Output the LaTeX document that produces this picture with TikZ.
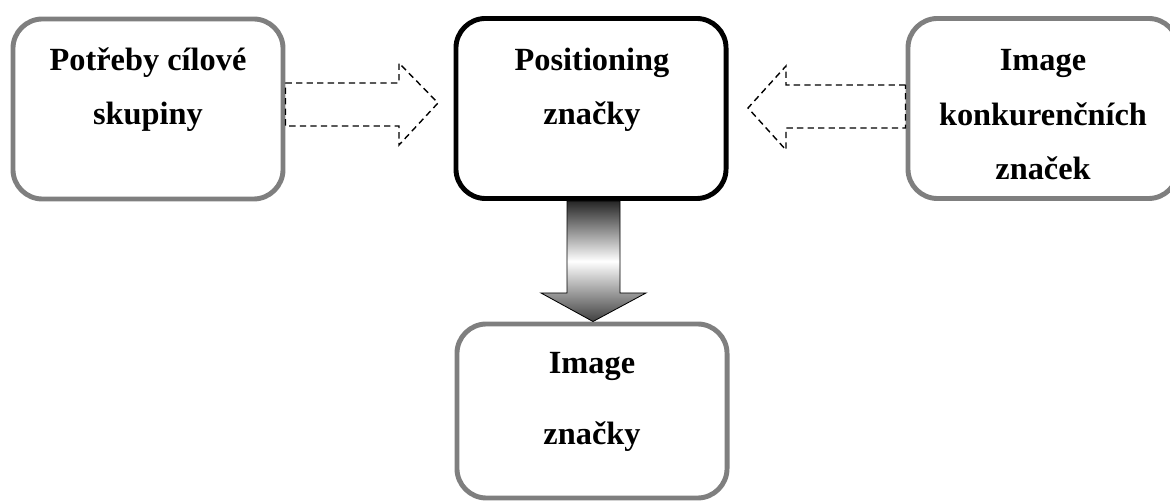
\documentclass[tikz,border=0pt]{standalone}
\usepackage{fontspec}
\setmainfont{Liberation Serif}
\usepackage{xcolor}
\definecolor{boxgray}{RGB}{127,127,127}
\usetikzlibrary{calc}

\tikzset{
  box/.style={draw=boxgray, line width=3.5pt, rounded corners=21pt, fill=white,
    minimum width=6.75cm, minimum height=4.5cm, inner sep=0pt},
  mainbox/.style={box, draw=black},
  lbl/.style={font=\fontsize{23}{39}\selectfont\bfseries, align=center, anchor=base, inner sep=0pt},
  widelbl/.style={lbl, font=\fontsize{23}{51}\selectfont\bfseries},
  dasharrow/.style={draw=black, line width=1pt, dash pattern=on 4.5pt off 3pt},
  downarrow/.style={draw=black, line width=0.6pt, top color=black!85, bottom color=black!75, middle color=white}
}

\begin{document}
\begin{tikzpicture}[x=0.025cm, y=-0.025cm]
  \useasboundingbox (0,0) rectangle (1170,503);

  % --- the four boxes ---
  \node[box]     (needs) at (148,109)  {};
  \node[mainbox] (pos)   at (591,108.5) {};
  \node[box]     (comp)  at (1043,108.5) {};
  \node[box, minimum height=4.35cm] (img) at (592,411) {};

  % --- box texts (anchored at the last line) ---
  \node[lbl] (needstext) at (148,125)  {Potřeby cílové\\skupiny};
  \node[lbl] (postext)   at (592,125)  {Positioning\\značky};
  \node[lbl] (comptext)  at (1043,180) {Image\\konkurenčních\\značek};
  \node[widelbl] (imgtext) at (592,445) {Image\\značky};

  % --- dashed block arrows into the centre ---
  \draw[dasharrow] (needs.east |- 0,83) -- (399,83) -- (399,63) -- (438,103)
    -- (399,145) -- (399,126) -- (needs.east |- 0,126) -- cycle;
  \draw[dasharrow] (comp.west |- 0,85) -- (786,85) -- (786,66) -- (748,108)
    -- (786,150) -- (786,128) -- (comp.west |- 0,128) -- cycle;

  % --- shaded arrow down to the image box ---
  \draw[downarrow] ($(pos.south)+(-24,0)$) -- ($(pos.south)+(29,0)$)
    -- ($(pos.south)+(29,92)$) -- ($(pos.south)+(55,92)$)
    -- ($(img.north)+(1,0)$) -- ($(pos.south)+(-50,92)$)
    -- ($(pos.south)+(-24,92)$) -- cycle;
\end{tikzpicture}
\end{document}
